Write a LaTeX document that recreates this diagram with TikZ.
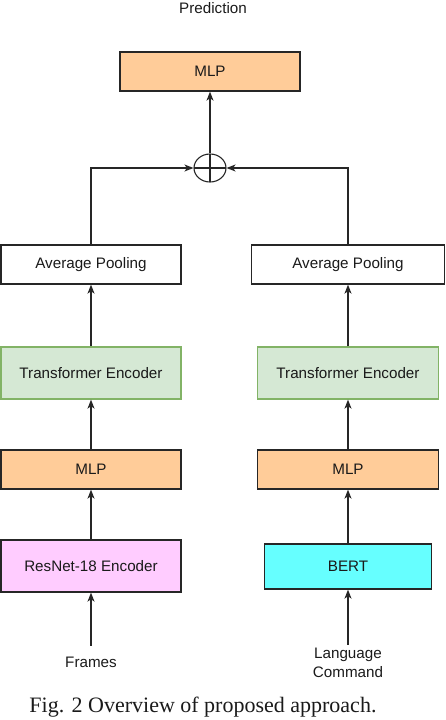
\documentclass[tikz,border=0pt]{standalone}
\usepackage{fontspec}
\setmainfont{Liberation Sans}
\newfontfamily\capfont{Liberation Serif}
\usetikzlibrary{arrows.meta,shapes.geometric}

\definecolor{mlporange}{HTML}{FFCC99}
\definecolor{encgreen}{HTML}{D5E8D4}
\definecolor{encgreenline}{HTML}{82B366}
\definecolor{resnetpink}{HTML}{FFCCFF}
\definecolor{bertcyan}{HTML}{66FFFF}
\definecolor{inktext}{HTML}{1A1A1A}

\tikzset{
  block/.style={draw=black!85, line width=1.3pt, minimum height=39pt, inner sep=0pt,
    text=inktext, font=\fontsize{15.2}{18}\selectfont},
  tall/.style={minimum height=52pt},
  mlpbox/.style={block, fill=mlporange},
  encbox/.style={block, tall, fill=encgreen, draw=encgreenline},
  poolbox/.style={block, fill=white},
  lbl/.style={text=inktext, font=\fontsize{15.2}{18}\selectfont, align=center, inner sep=1pt},
  arr/.style={-{Stealth[length=9pt,width=7pt,inset=2.5pt]}, line width=1.3pt, draw=black!85},
  sumnode/.style={draw=black!85, line width=1.1pt, ellipse, minimum width=32pt, minimum height=28pt,
    inner sep=0pt, path picture={
      \draw[line width=1.1pt, black!85] (path picture bounding box.north) -- (path picture bounding box.south);
      \draw[line width=1.1pt, black!85] (path picture bounding box.west) -- (path picture bounding box.east);}}
}

\begin{document}
\begin{tikzpicture}[x=1pt, y=-1pt]
\useasboundingbox (0,0) rectangle (446,720);

% output
\node[lbl] (pred) at (213,8) {Prediction};
\node[mlpbox, minimum width=180pt] (mlptop) at (210,71.5) {MLP};
\node[sumnode] (sum) at (210,168) {};

% frames branch
\node[poolbox, minimum width=180pt] (avgL) at (91,264.5) {Average Pooling};
\node[encbox, minimum width=180pt] (transL) at (91,373) {Transformer Encoder};
\node[mlpbox, minimum width=180pt] (mlpL) at (91,469.5) {MLP};
\node[block, tall, fill=resnetpink, minimum width=180pt] (resnet) at (91,566) {ResNet-18 Encoder};
\node[lbl] (frames) at (91,662) {Frames};

% language branch
\node[poolbox, minimum width=193pt] (avgR) at (348,264.5) {Average Pooling};
\node[encbox, minimum width=181pt] (transR) at (348,373) {Transformer Encoder};
\node[mlpbox, minimum width=181pt] (mlpR) at (348,469.5) {MLP};
\node[block, fill=bertcyan, minimum width=167pt, minimum height=45pt] (bert) at (348,566.5) {BERT};
\node[lbl, font=\fontsize{15.2}{19}\selectfont] (lang) at (348,662.5) {Language\\Command};

% caption
\node[text=inktext, font=\capfont\fontsize{22}{26}\selectfont] (caption) at (203,707) {Fig. 2 Overview of proposed approach.};

\draw[arr] (frames.north) ++(0,-10) -- (resnet.south);
\draw[arr] (resnet) -- (mlpL);
\draw[arr] (mlpL) -- (transL);
\draw[arr] (transL) -- (avgL);
\draw[arr] (avgL.north) |- (sum.west);

\draw[arr, shorten <=2pt] (lang.north) -- (bert.south);
\draw[arr] (bert) -- (mlpR);
\draw[arr] (mlpR) -- (transR);
\draw[arr] (transR) -- (avgR);
\draw[arr] (avgR.north) |- (sum.east);

\draw[arr] (sum.north) -- (mlptop.south);
\end{tikzpicture}
\end{document}
